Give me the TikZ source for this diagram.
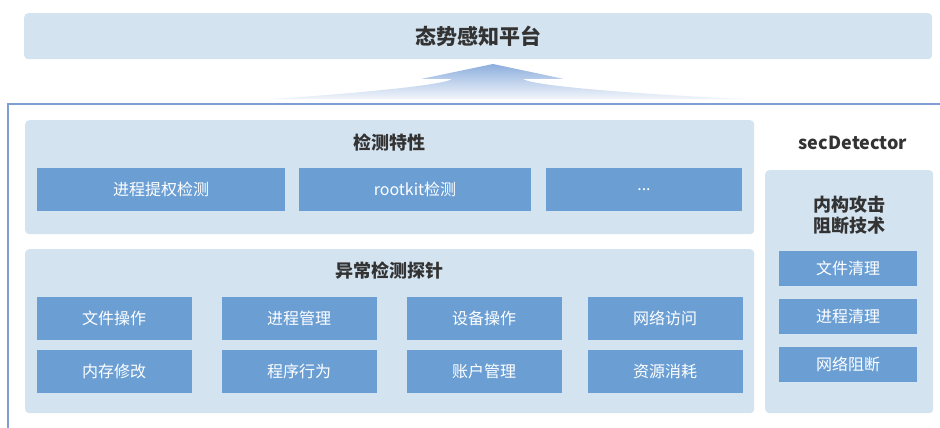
\documentclass[tikz,border=0pt]{standalone}
\usepackage{fontspec}
\setmainfont{Noto Sans CJK SC}
\newfontfamily\cjk{Noto Sans CJK SC}
\usetikzlibrary{shadings}
\definecolor{panelbg}{HTML}{D3E3F0}
\definecolor{boxbg}{HTML}{6B9FD4}
\definecolor{frameblue}{HTML}{7F9FD4}
\definecolor{titlegray}{HTML}{333333}
\definecolor{arrowtop}{HTML}{8CAEDD}
\tikzset{
  panel/.style={fill=panelbg, rounded corners=4pt, draw=none},
  itembox/.style={fill=boxbg, draw=none, text=white, font=\cjk\fontsize{16}{18}\selectfont, inner sep=0pt},
  ttl/.style={text=titlegray, font=\cjk\bfseries\fontsize{18}{22}\selectfont, inner sep=0pt},
}
\begin{document}
\begin{tikzpicture}[x=1pt,y=-1pt]
\clip (0,0) rectangle (940,428);
\fill[white] (0,0) rectangle (940,428);
% top bar
\node[panel, minimum width=908pt, minimum height=46pt, anchor=north west, inner sep=0pt] (top) at (24,13) {};
\node[ttl, font=\cjk\bfseries\fontsize{21}{24}\selectfont] (toptxt) at (top.center) {态势感知平台};
% arrow
\shade[top color=arrowtop, bottom color=arrowtop!12!white, middle color=arrowtop!55!white]
  (493,64) -- (564,79) -- (523,79) .. controls (531,85) and (615,93) .. (743,99)
  -- (273,99) .. controls (360,93) and (444,85) .. (452,79) -- (421,79) -- cycle;
% outer frame
\draw[frameblue, line width=1.2pt] (8,450) -- (8,104) -- (960,104);
% panel 1
\node[panel, minimum width=729pt, minimum height=114pt, anchor=north west, inner sep=0pt] (p1) at (25,120) {};
\node[ttl] (p1t) at (389,143) {检测特性};
\node[itembox, minimum width=248pt, minimum height=43pt] (a1) at (161,189.5) {进程提权检测};
\node[itembox, minimum width=232pt, minimum height=43pt] (a2) at (415,189.5) {rootkit检测};
\node[itembox, minimum width=196pt, minimum height=43pt] (a3) at (644,189.5) {...};
% panel 2
\node[panel, minimum width=729pt, minimum height=164pt, anchor=north west, inner sep=0pt] (p2) at (25,249) {};
\node[ttl] (p2t) at (389,271) {异常检测探针};
\foreach \n/\x/\y/\t in {b1/114/318.5/文件操作, b2/299/318.5/进程管理, b3/484/318.5/设备操作, b4/665/318.5/网络访问,
                         c1/114/371.5/内存修改, c2/299/371.5/程序行为, c3/484/371.5/账户管理, c4/665/371.5/资源消耗}{
  \node[itembox, minimum width=155pt, minimum height=43pt] (\n) at (\x,\y) {\t};
}
% right panel
\node[ttl] (sec) at (853,143) {secDetector};
\node[panel, minimum width=168pt, minimum height=243pt, anchor=north west, inner sep=0pt] (p3) at (765,170) {};
\node[ttl, align=center, font=\cjk\bfseries\fontsize{18}{21}\selectfont] (p3t) at (849,215.5) {内构攻击\\阻断技术};
\node[itembox, minimum width=138pt, minimum height=35pt] (d1) at (848,268.5) {文件清理};
\node[itembox, minimum width=138pt, minimum height=35pt] (d2) at (848,316.5) {进程清理};
\node[itembox, minimum width=138pt, minimum height=35pt] (d3) at (848,364.5) {网络阻断};
\end{tikzpicture}
\end{document}
